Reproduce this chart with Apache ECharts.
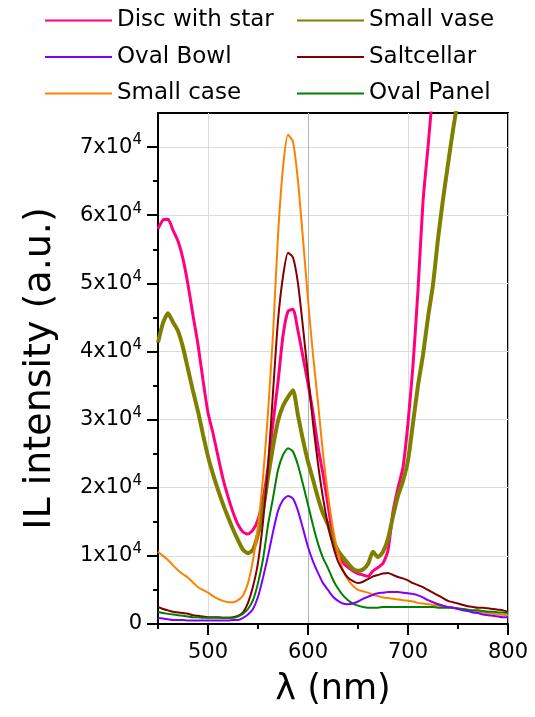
<!DOCTYPE html>
<html><head><meta charset="utf-8">
<script src="https://cdn.jsdelivr.net/npm/echarts@6/dist/echarts.min.js"></script>
<style>html,body{margin:0;padding:0;background:#fff}#c{width:535px;height:717px}</style>
</head><body><div id="c"></div>
<script>
// wavelength grid (nm)
const wavelength = [450,455,460,465,470,475,480,485,490,495,500,505,510,515,520,525,530,535,540,545,550,555,560,565,570,575,580,585,590,595,600,605,610,615,620,625,630,635,640,645,650,655,660,665,670,675,680,685,690,695,700,705,710,715,720,725,730,735,740,745,750,755,760,765,770,775,780,785,790,795,800];
// intensities in units of 10^3 a.u.
const discWithStar = [58.0,59.3,59.4,57.8,56.2,53.6,49.8,45.3,41.0,35.8,31.0,28.0,24.6,21.3,18.7,16.4,14.6,13.5,13.2,13.8,15.3,18.3,23.0,29.5,35.5,42.3,45.9,46.2,43.0,39.2,35.3,31.0,26.0,22.0,17.5,12.8,10.3,9.0,8.3,7.8,7.4,7.2,7.0,7.8,8.3,8.9,10.8,16.5,20.0,23.0,29.5,38.0,49.0,62.0,70.0,78.5,86.0,null,null,null,null,null,null,null,null,null,null,null,null,null,null];
const smallVase = [41.3,44.2,45.6,44.3,43.0,40.6,37.4,34.2,31.2,27.8,24.6,22.0,19.7,17.6,15.7,13.9,12.3,10.9,10.4,10.9,13.2,16.8,21.5,26.0,29.8,32.0,33.3,34.3,30.6,27.0,23.8,21.2,18.5,16.2,14.6,12.3,10.8,9.8,8.9,8.1,7.8,8.0,8.8,10.6,9.8,10.6,12.5,15.8,18.8,21.0,24.0,29.5,35.0,39.5,45.0,49.8,56.5,62.3,67.5,72.5,77.0,81.0,null,null,null,null,null,null,null,null,null];
const ovalBowl = [0.9,0.8,0.7,0.6,0.6,0.6,0.5,0.5,0.5,0.5,0.5,0.5,0.5,0.5,0.5,0.6,0.6,0.9,1.4,2.2,4.0,6.8,10.0,13.5,16.6,18.2,18.8,18.4,16.6,14.0,11.3,9.2,7.5,6.0,5.0,4.0,3.4,3.0,2.9,3.0,3.3,3.7,4.0,4.3,4.5,4.6,4.7,4.7,4.7,4.6,4.5,4.4,4.2,3.9,3.5,3.2,2.9,2.7,2.5,2.4,2.2,2.0,1.9,1.7,1.6,1.4,1.3,1.2,1.1,1.0,1.0];
const saltcellar = [2.5,2.2,2.0,1.8,1.7,1.6,1.5,1.3,1.2,1.1,1.0,1.0,1.0,0.9,0.9,1.0,1.2,1.7,3.1,5.5,9.0,15.0,23.0,34.0,44.5,51.0,54.5,53.8,50.0,43.5,36.5,29.5,23.5,18.5,14.5,11.5,9.2,7.8,6.8,6.3,6.0,6.2,6.6,7.0,7.2,7.4,7.5,7.2,6.9,6.7,6.4,6.0,5.7,5.4,5.0,4.6,4.2,3.8,3.4,3.2,3.0,2.8,2.6,2.5,2.4,2.4,2.3,2.2,2.1,2.0,1.8];
const smallCase = [10.6,10.0,9.4,8.6,7.9,7.3,6.8,6.1,5.4,5.0,4.6,4.1,3.7,3.4,3.2,3.2,3.5,4.2,6.0,9.4,14.3,21.5,31.0,42.5,57.0,67.0,71.8,70.8,65.0,56.5,47.6,39.5,32.5,25.0,19.0,14.0,10.5,7.9,6.5,5.6,5.0,4.8,4.6,4.3,4.1,3.9,3.8,3.7,3.6,3.5,3.4,3.3,3.1,3.0,2.9,2.8,2.7,2.6,2.5,2.4,2.2,2.1,2.0,1.9,1.8,1.7,1.6,1.5,1.4,1.35,1.3];
const ovalPanel = [1.8,1.6,1.5,1.4,1.3,1.2,1.1,1.0,1.0,0.9,0.9,0.9,0.9,0.9,0.9,0.9,1.1,1.5,2.2,3.5,6.0,9.5,14.5,18.5,22.6,24.8,25.8,25.3,23.3,20.5,17.5,14.5,11.8,9.7,8.2,6.5,5.2,4.2,3.5,3.0,2.7,2.5,2.4,2.4,2.4,2.5,2.5,2.5,2.5,2.5,2.5,2.5,2.5,2.5,2.5,2.5,2.4,2.4,2.4,2.4,2.3,2.2,2.1,2.0,2.0,1.9,1.8,1.8,1.7,1.7,1.6];

const legendCol1 = ['Disc with star','Oval Bowl','Small case'];
const legendCol2 = ['Small vase','Saltcellar','Oval Panel'];
const xMajorTicks = [500,600,700,800];
const xMinorTicks = [450,550,650,750];
const yMajorTicks = [0,10000,20000,30000,40000,50000,60000,70000];
const yMinorTicks = [5000,15000,25000,35000,45000,55000,65000];

const FONT = 'DejaVu Sans';
function pairs(arr){
  const out = [];
  wavelength.forEach((w,i)=>{ if(arr[i]!=null) out.push([w, arr[i]*1000]); });
  return out;
}
const styles = {
  'Disc with star': {color:'#ff0080', width:3},
  'Small vase': {color:'#808000', width:4},
  'Oval Bowl': {color:'#8000ff', width:2},
  'Saltcellar': {color:'#800000', width:2},
  'Small case': {color:'#ff8000', width:2},
  'Oval Panel': {color:'#008000', width:2}
};
const dataMap = {
  'Disc with star': discWithStar, 'Small vase': smallVase, 'Oval Bowl': ovalBowl,
  'Saltcellar': saltcellar, 'Small case': smallCase, 'Oval Panel': ovalPanel
};
const drawOrder = ['Disc with star','Small vase','Small case','Saltcellar','Oval Panel','Oval Bowl'];

const chart = echarts.init(document.getElementById('c'));
const legendBase = {
  orient:'vertical', itemWidth:67, itemHeight:2, itemGap:13.5, top:9, padding:0,
  icon:'rect',
  textStyle:{fontFamily:FONT, fontSize:23, color:'#000', lineHeight:22}
};
chart.setOption({
  animation:false,
  backgroundColor:'#fff',
  legend:[
    Object.assign({}, legendBase, {left:45, data:legendCol1}),
    Object.assign({}, legendBase, {left:297, data:legendCol2})
  ],
  grid:{left:158, right:27, top:113, bottom:93, show:true, borderColor:'#000', borderWidth:2, containLabel:false},
  xAxis:[{
    type:'value', min:450, max:800, interval:50,
    name:'λ (nm)', nameLocation:'middle', nameGap:48,
    nameTextStyle:{fontFamily:FONT, fontSize:35, color:'#000'},
    axisLine:{show:true, onZero:false, lineStyle:{color:'#000', width:2}},
    axisTick:{show:true, customValues:xMajorTicks, length:11, lineStyle:{color:'#000', width:2}},
    axisLabel:{customValues:xMajorTicks, fontFamily:FONT, fontSize:21, color:'#000', margin:18},
    splitLine:{show:true, lineStyle:{color:['#dcdcdc','#b4b4b4'], width:1}}
  },{
    type:'value', min:450, max:800, interval:50, position:'bottom',
    axisLine:{show:false}, axisLabel:{show:false}, splitLine:{show:false},
    axisTick:{show:true, customValues:xMinorTicks, length:5, lineStyle:{color:'#000', width:2}}
  }],
  yAxis:[{
    type:'value', min:0, max:75000, interval:5000,
    name:'IL intensity (a.u.)', nameLocation:'middle', nameGap:99, nameRotate:90,
    nameTextStyle:{fontFamily:FONT, fontSize:38, color:'#000'},
    axisLine:{show:true, onZero:false, lineStyle:{color:'#000', width:2}},
    axisTick:{show:true, customValues:yMajorTicks, length:11, lineStyle:{color:'#000', width:2}},
    axisLabel:{customValues:yMajorTicks, margin:16,
      formatter:function(v){ return v===0 ? '{a|0}' : '{a|'+(v/10000)+'x10}{b|4}'; },
      rich:{
        a:{fontFamily:FONT, fontSize:21, color:'#000', verticalAlign:'middle'},
        b:{fontFamily:FONT, fontSize:15, color:'#000', verticalAlign:'bottom', padding:[0,0,13,0]}
      }},
    splitLine:{show:true, lineStyle:{color:'#dcdcdc', width:1}}
  },{
    type:'value', min:0, max:75000, interval:5000, position:'left',
    axisLine:{show:false}, axisLabel:{show:false}, splitLine:{show:false},
    axisTick:{show:true, customValues:yMinorTicks, length:5, lineStyle:{color:'#000', width:2}}
  }],
  series: drawOrder.map(name => ({
    name:name, type:'line', xAxisIndex:0, yAxisIndex:0,
    data:pairs(dataMap[name]), symbol:'none', showSymbol:false, clip:true,
    smooth:0.2,
    color:styles[name].color,
    lineStyle:{color:styles[name].color, width:styles[name].width}
  }))
});
</script></body></html>
